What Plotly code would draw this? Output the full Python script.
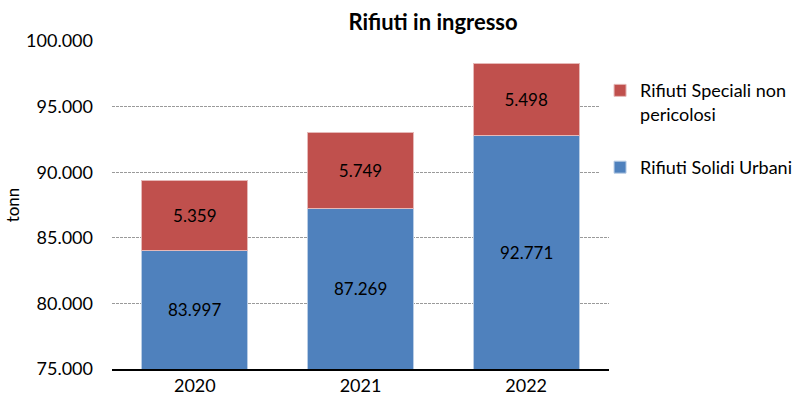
import plotly.graph_objects as go

years = ["2020", "2021", "2022"]
rsu = [83997, 87269, 92771]
rsnp = [5359, 5749, 5498]
y_ticks = [75000, 80000, 85000, 90000, 95000, 100000]
y_range = [75000, 100000]

FONT = "Lato"

fig = go.Figure()
fig.add_trace(go.Bar(
    x=years, y=rsu, name="Rifiuti Solidi Urbani",
    marker=dict(color="#4F81BD", line=dict(color="#B9CDE5", width=1)),
    legendgroup="a", legendrank=2,
))
fig.add_trace(go.Bar(
    x=years, y=rsnp, name="Rifiuti Speciali non<br>pericolosi",
    marker=dict(color="#C0504D", line=dict(color="#E6B9B8", width=1)),
    texttemplate="%{y:,.0f}", textposition="inside", insidetextanchor="middle",
    textfont=dict(family=FONT, size=17, color="black"),
    legendgroup="b", legendrank=1,
))

# labels of the blue segments, centred on their visible part (x = category index)
for i, v in enumerate(rsu):
    fig.add_annotation(x=i, y=(y_range[0] + v) / 2, text=f"{v:,}".replace(",", "."),
                       showarrow=False, font=dict(family=FONT, size=17, color="black"))

fig.update_layout(
    barmode="stack",
    bargap=0.36,
    separators=",.",
    width=799, height=405,
    margin=dict(l=112, r=190, t=41, b=36, autoexpand=False),
    plot_bgcolor="white", paper_bgcolor="white",
    font=dict(family=FONT, size=18, color="black"),
    title=dict(text="<b>Rifiuti in ingresso</b>", x=0.542, xanchor="center",
               y=0.945, yanchor="middle", font=dict(size=22)),
    legend=dict(x=0.982, y=0.905, xanchor="left", yanchor="top",
                traceorder="grouped", tracegroupgap=27, valign="top",
                font=dict(size=18), itemwidth=30),
)
fig.update_xaxes(type="category", range=[-0.5, 2.5], showline=True, linecolor="black",
                 linewidth=1.5, ticks="", tickfont=dict(size=18), automargin=False)
fig.update_yaxes(range=y_range, tickvals=y_ticks, tickformat=",.0f",
                 showgrid=True, gridcolor="#9A9A9A", griddash="3px,1px", gridwidth=1,
                 zeroline=False, showline=False, automargin=False,
                 ticklabelstandoff=18,
                 title=dict(text="tonn", font=dict(size=17), standoff=2),
                 tickfont=dict(size=18))

fig.write_html(
    "out.html",
    config={"displayModeBar": False},
    post_script="document.body.style.margin='0';"
                "document.documentElement.style.overflow='hidden';",
)
